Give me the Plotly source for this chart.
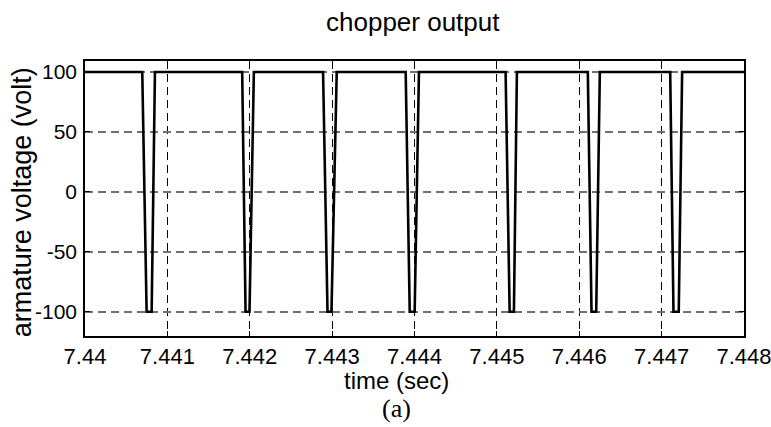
import plotly.graph_objects as go

# Data
time_s = [7.44,
          7.440695, 7.440748, 7.440809, 7.440849,
          7.441908, 7.441949, 7.441997, 7.442050,
          7.442890, 7.442944, 7.442992, 7.443056,
          7.443893, 7.443942, 7.444002, 7.444054,
          7.445106, 7.445155, 7.445207, 7.445243,
          7.446104, 7.446149, 7.446206, 7.446250,
          7.447104, 7.447144, 7.447208, 7.447249,
          7.448]
voltage = [100,
           100, -100, -100, 100,
           100, -100, -100, 100,
           100, -100, -100, 100,
           100, -100, -100, 100,
           100, -100, -100, 100,
           100, -100, -100, 100,
           100, -100, -100, 100,
           100]

x_ticks = [7.44, 7.441, 7.442, 7.443, 7.444, 7.445, 7.446, 7.447, 7.448]
x_tick_labels = ["7.44", "7.441", "7.442", "7.443", "7.444", "7.445", "7.446", "7.447", "7.448"]
y_ticks = [-100, -50, 0, 50, 100]
y_tick_labels = ["-100", "-50", "0", "50", "100"]

title_text = "chopper output"
x_label = "time (sec)"
y_label = "armature voltage (volt)"
caption = "(a)"

W, H = 771, 427
L, R, T, B = 85, 744.5, 60.7, 335.7

def px(x):
    return (x - L) / (R - L)

def py(y):
    return (B - y) / (B - T)

sans = "Liberation Sans Narrow, Arial Narrow, Liberation Sans, Arial, sans-serif"

fig = go.Figure()
fig.add_trace(go.Scatter(x=time_s, y=voltage, mode="lines",
                         line=dict(color="black", width=2.6),
                         showlegend=False, hoverinfo="skip"))

fig.update_layout(
    width=W, height=H,
    margin=dict(l=L, r=W - R, t=T, b=H - B, pad=0, autoexpand=False),
    paper_bgcolor="white", plot_bgcolor="white",
    showlegend=False,
    xaxis=dict(range=[7.4399999, 7.4480001], tickvals=x_ticks, ticktext=x_tick_labels,
               showgrid=True, gridcolor="black", gridwidth=1, griddash="8px,5px",
               zeroline=False, showline=True, linecolor="black", linewidth=1.5,
               mirror="ticks", ticks="inside", ticklen=5, tickcolor="black",
               tickfont=dict(family=sans, size=22, color="black"),
               ticklabelstandoff=0, ticklabeloverflow="allow", automargin=False),
    yaxis=dict(range=[-120.3, 109.2], tickvals=y_ticks, ticktext=y_tick_labels,
               showgrid=True, gridcolor="#707070", gridwidth=1.5, griddash="8px,5px",
               zeroline=False, showline=True, linecolor="black", linewidth=1.5,
               mirror="ticks", ticks="inside", ticklen=5, tickcolor="black",
               tickfont=dict(family=sans, size=21, color="black"),
               ticklabelstandoff=2, automargin=False),
    annotations=[
        dict(text=title_text, x=px(413), y=py(22), xref="paper", yref="paper",
             showarrow=False, xanchor="center", yanchor="middle",
             font=dict(family=sans, size=26, color="black")),
        dict(text=x_label, x=px(397), y=py(380), xref="paper", yref="paper",
             showarrow=False, xanchor="center", yanchor="middle",
             font=dict(family=sans, size=24, color="black")),
        dict(text=caption, x=px(397), y=py(408), xref="paper", yref="paper",
             showarrow=False, xanchor="center", yanchor="middle",
             font=dict(family="Liberation Serif, Times New Roman, serif", size=26, color="black")),
        dict(text=y_label, x=px(22), y=py(202), xref="paper", yref="paper",
             showarrow=False, xanchor="center", yanchor="middle", textangle=-90,
             font=dict(family="Liberation Sans, Arial, sans-serif", size=27, color="black")),
    ],
)

fig.write_html("out.html")
